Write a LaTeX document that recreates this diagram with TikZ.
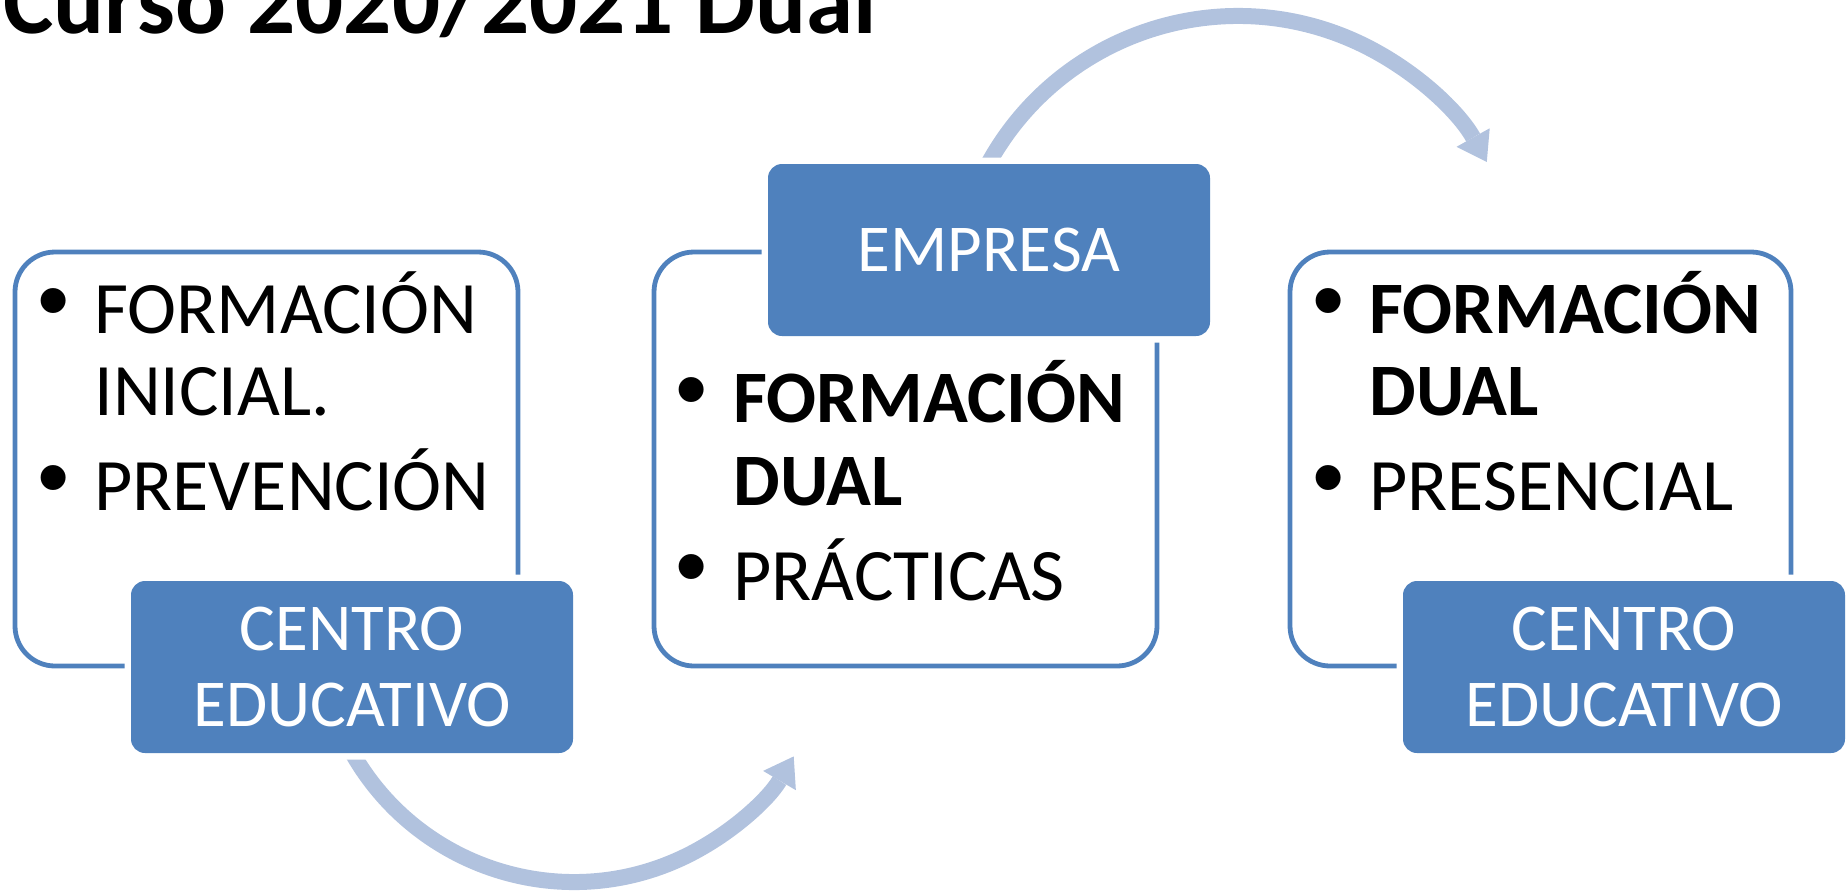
\documentclass[tikz,border=0pt]{standalone}
\usepackage{fontspec}
\setmainfont{Carlito}
\newfontfamily\bulletfnt{Liberation Sans}
\usetikzlibrary{arrows.meta,calc}
\definecolor{accblue}{HTML}{4F81BD}
\definecolor{arcblue}{HTML}{B1C2DE}
\newcommand\txtbody{\fontsize{37}{41}\selectfont}
\newcommand\txtbox{\fontsize{33.5}{38}\selectfont}
\newcommand\txttitle{\fontsize{47.5}{52}\selectfont\bfseries}
\begin{document}
\begin{tikzpicture}[x=0.5pt,y=-0.5pt,
  whitebox/.style={draw=accblue, line width=2.4pt, rounded corners=20pt},
  bluebox/.style={fill=accblue, rounded corners=7pt,
    preaction={draw=white, line width=6.5pt},
    minimum width=221pt, minimum height=86pt, inner sep=0pt,
    text=white, font=\txtbox, align=center},
  bodytext/.style={anchor=base west, inner sep=0pt, font=\txtbody},
  boldtext/.style={anchor=base west, inner sep=0pt, font=\txtbody\bfseries},
  bulletmark/.style={inner sep=0pt, font=\bulletfnt\fontsize{46}{50}\selectfont},
  arcline/.style={draw=arcblue, line width=8pt,
    -{Triangle[width=19pt,length=14pt,line width=0pt]}}
]
\useasboundingbox (0,0) rectangle (1847,890);

% title
\node[anchor=base west, inner sep=0pt, font=\txttitle] (title) at (3,33) {Curso 2020/2021 Dual};

% white boxes
\draw[whitebox] (15,252) rectangle (518,666);
\draw[whitebox] (654,252) rectangle (1157,666);
\draw[whitebox] (1290,252) rectangle (1791,666);

% curved arrows
\coordinate (ctop) at (1238,301);
\coordinate (cbot) at (574,627);
\draw[arcline] ($(ctop)+(206.2:285)$) arc[start angle=206.2, end angle=330.8, radius=285];
\draw[arcline] ($(cbot)+(153.7:255)$) arc[start angle=153.7, end angle=30.5, radius=255];

% blue boxes
\node[bluebox] (c1) at (352,667) {CENTRO\\EDUCATIVO};
\node[bluebox] (emp) at (989,250) {EMPRESA};
\node[bluebox] (c3) at (1624,667) {CENTRO\\EDUCATIVO};

% left box text
\node[bulletmark] (lb1) at (53.5,310) {•};
\node[bodytext] (l1) at (94,333) {FORMACIÓN};
\node[bodytext] (l2) at (94,415) {INICIAL.};
\node[bulletmark] (lb2) at (53.5,487) {•};
\node[bodytext] (l3) at (94,510) {PREVENCIÓN};

% middle box text
\node[bulletmark] (mb1) at (691.5,399) {•};
\node[boldtext] (m1) at (733,422) {FORMACIÓN};
\node[boldtext] (m2) at (733,505) {DUAL};
\node[bulletmark] (mb2) at (691.5,576) {•};
\node[bodytext] (m3) at (733,600) {PRÁCTICAS};

% right box text
\node[bulletmark] (rb1) at (1328.5,310) {•};
\node[boldtext] (r1) at (1369,333) {FORMACIÓN};
\node[boldtext] (r2) at (1369,415) {DUAL};
\node[bulletmark] (rb2) at (1328.5,487) {•};
\node[bodytext] (r3) at (1369,510) {PRESENCIAL};
\end{tikzpicture}
\end{document}
